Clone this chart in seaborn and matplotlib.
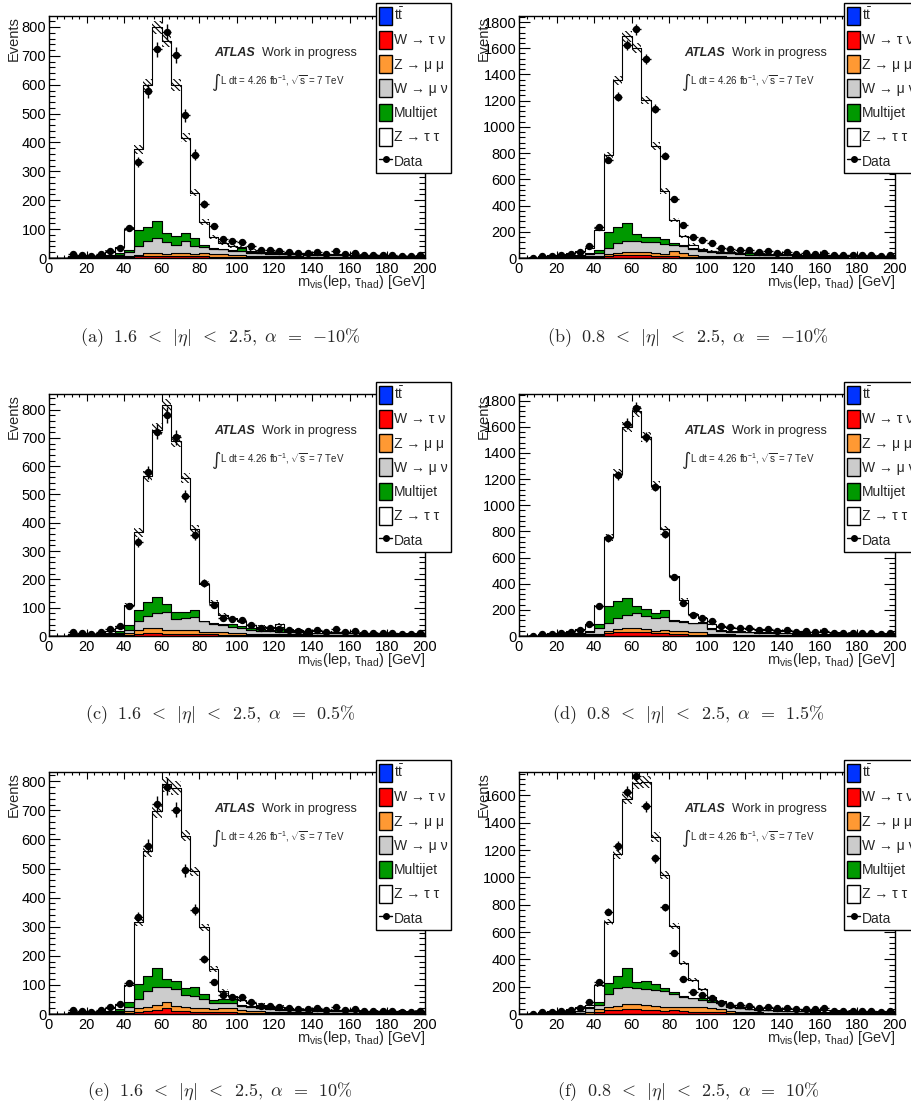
import numpy as np
import pandas as pd
import matplotlib
matplotlib.use("Agg")
import matplotlib.pyplot as plt
import seaborn as sns
from matplotlib.patches import Patch
from matplotlib.lines import Line2D
from matplotlib.ticker import MultipleLocator

# 40 bins of 5 GeV from 0 to 200
edges = list(range(0, 205, 5))
centers = np.array(edges[:-1]) + 2.5

nan = np.nan
# data is the same for all alpha values within one eta region
data_eta16 = [nan, nan, 13, 10, 8, 15, 25, 35, 105, 333, 578, 722, 782, 703, 494, 358, 188, 110, 65, 60,
              57, 40, 28, 28, 25, 20, 18, 18, 20, 15, 25, 14, 16, 12, 10, 10, 10, 8, 8, 12]
data_eta08 = [nan, 0, 15, 18, 20, 30, 45, 88, 233, 750, 1230, 1625, 1745, 1520, 1140, 780, 450, 255, 160, 137,
              114, 79, 69, 64, 58, 46, 53, 41, 46, 33, 38, 33, 41, 25, 25, 22, 22, 22, 15, 20]

ttbar_eta16 = [0, 0, 0, 0, 0, 0, 0, 0, 0.3, 0.5, 0.5, 0.5, 0.5, 0.5, 0.5, 0.5, 0.5, 0.5, 0.5, 0.5,
               0.5, 0.5, 0.5, 0.3, 0.3, 0.3, 0.3, 0.3, 0.3, 0.3, 0.3, 0.3, 0.2, 0.2, 0.2, 0.2, 0.2, 0.2, 0.2, 0.2]
ttbar_eta08 = [0, 0, 0, 0, 0, 0, 0, 0, 0.5, 1, 1, 1, 1, 1, 1, 1, 1, 1, 1, 1,
               1, 1, 1, 0.5, 0.5, 0.5, 0.5, 0.5, 0.5, 0.5, 0.5, 0.5, 0.5, 0.5, 0.5, 0.5, 0.5, 0.5, 0.5, 0.5]

# (a) 1.6<|eta|<2.5, alpha=-10%
wtn_a = [0, 0, 1, 1, 1, 1, 1, 2, 3, 5, 6, 7, 7, 6, 6, 5, 5, 4, 3, 3, 3, 2, 2, 2, 2, 2, 2, 1, 1, 1, 1, 1, 1, 1, 1, 1, 1, 1, 1, 1]
zmm_a = [0, 0, 1, 2, 2, 3, 3, 4, 5, 5, 10, 11, 8, 10, 10, 9, 11, 8, 9, 7, 6, 5, 5, 4, 4, 4, 4, 3, 3, 3, 3, 3, 3, 2, 2, 2, 2, 2, 2, 2]
wmn_a = [0, 0, 2, 2, 2, 3, 4, 6, 12, 32, 41, 51, 40, 30, 44, 28, 21, 20, 18, 15, 14, 10, 9, 8, 8, 7, 7, 6, 6, 5, 5, 5, 4, 4, 4, 4, 3, 3, 3, 3]
mj_a = [0, 0, 2, 1, 2, 2, 3, 5, 9, 54, 51, 60, 30, 31, 27, 28, 9, 3, 2, 2, 10, 3, 2, 2, 2, 1, 1, 1, 1, 1, 1, 1, 1, 1, 1, 1, 1, 1, 1, 1]
ztt_a = [0, 0, 2, 1, 1, 3, 11, 21, 71, 280, 492, 669, 667, 521, 329, 155, 79, 37, 20, 13,
         3, 5, 4, 4, 2, 3, 1, 3, 2, 2, 2, 1, 1, 2, 1, 1, 1, 1, 1, 0]
err_a = [0, 0, 2, 2, 2, 3, 4, 5, 8, 15, 20, 23, 22, 20, 16, 12, 10, 8, 7, 6, 5, 4, 4, 3, 3, 3, 3, 3, 3, 3, 3, 3, 3, 3, 3, 3, 3, 3, 3, 3]

# (b) 0.8<|eta|<2.5, alpha=-10%
wtn_b = [0, 0, 1, 2, 2, 3, 3, 4, 5, 15, 20, 25, 22, 20, 18, 15, 14, 10, 8, 6, 5, 4, 4, 3, 3, 3, 3, 2, 2, 2, 2, 2, 2, 2, 2, 1, 1, 1, 1, 1]
zmm_b = [0, 1, 3, 4, 4, 5, 6, 8, 8, 12, 18, 20, 25, 22, 20, 18, 40, 30, 15, 10, 8, 7, 6, 6, 5, 5, 4, 4, 4, 3, 3, 3, 3, 3, 3, 2, 2, 2, 2, 2]
wmn_b = [0, 1, 4, 5, 6, 8, 10, 18, 23, 47, 74, 87, 78, 78, 82, 74, 46, 50, 45, 40, 35, 28, 24, 20, 18, 16, 15, 14, 13, 12, 11, 10, 9, 9, 8, 8, 7, 7, 7, 6]
mj_b = [0, 0, 2, 3, 3, 4, 6, 8, 28, 122, 122, 133, 58, 43, 43, 38, 12, 6, 6, 6, 6, 6, 5, 5, 8, 4, 4, 3, 3, 3, 3, 3, 2, 2, 2, 2, 2, 2, 2, 2]
ztt_b = [0, 1, 5, 6, 10, 15, 25, 37, 152, 585, 1121, 1425, 1419, 1040, 691, 363, 175, 69, 26, 2,
         1, 3, 5, 6, 4, 7, 7, 7, 7, 7, 7, 6, 7, 6, 6, 6, 6, 5, 5, 5]
err_b = [0, 1, 3, 3, 4, 4, 5, 6, 10, 25, 35, 40, 40, 33, 28, 22, 17, 13, 10, 8, 7, 6, 5, 5, 5, 4, 4, 4, 4, 4, 4, 4, 4, 4, 4, 4, 4, 4, 4, 4]

# (c) 1.6<|eta|<2.5, alpha=0.5%
wtn_c = [0, 0, 1, 1, 1, 1, 1, 2, 4, 8, 10, 10, 8, 8, 7, 7, 6, 5, 4, 4, 3, 3, 2, 2, 2, 2, 2, 2, 1, 1, 1, 1, 1, 1, 1, 1, 1, 1, 1, 1]
zmm_c = [0, 0, 1, 2, 2, 3, 3, 4, 6, 11, 17, 16, 13, 13, 12, 12, 9, 8, 8, 7, 6, 5, 5, 4, 4, 4, 4, 3, 3, 3, 3, 3, 3, 2, 2, 2, 2, 2, 2, 2]
wmn_c = [0, 0, 2, 2, 2, 3, 4, 6, 11, 35, 44, 54, 65, 38, 44, 46, 36, 30, 25, 22, 19, 14, 11, 10, 9, 8, 7, 7, 6, 6, 5, 5, 5, 4, 4, 4, 4, 3, 3, 3]
mj_c = [0, 0, 2, 1, 2, 2, 3, 5, 18, 38, 47, 57, 27, 27, 21, 27, 3, 2, 4, 8, 8, 6, 5, 5, 18, 3, 2, 2, 2, 2, 2, 2, 1, 1, 1, 1, 1, 1, 1, 1]
ztt_c = [0, 0, 2, 1, 1, 3, 7, 13, 71, 274, 446, 592, 701, 602, 474, 287, 130, 73, 31, 22,
         15, 11, 10, 10, 8, 7, 5, 4, 4, 3, 3, 2, 2, 3, 3, 2, 2, 2, 2, 2]
err_c = [0, 0, 2, 2, 2, 3, 4, 5, 8, 16, 20, 22, 23, 20, 18, 14, 9, 8, 7, 6, 6, 5, 4, 4, 5, 3, 3, 3, 3, 3, 3, 3, 3, 3, 3, 3, 3, 3, 3, 3]

# (d) 0.8<|eta|<2.5, alpha=1.5%
wtn_d = [0, 0, 1, 2, 2, 3, 3, 4, 6, 20, 26, 33, 28, 28, 22, 20, 18, 14, 10, 8, 6, 5, 4, 4, 3, 3, 3, 3, 2, 2, 2, 2, 2, 2, 2, 2, 1, 1, 1, 1]
zmm_d = [0, 1, 3, 4, 4, 5, 6, 8, 12, 21, 25, 26, 31, 23, 19, 26, 23, 27, 23, 25, 12, 8, 7, 6, 6, 5, 5, 4, 4, 4, 3, 3, 3, 3, 3, 2, 2, 2, 2, 2]
wmn_d = [0, 1, 4, 5, 6, 8, 10, 18, 41, 56, 84, 102, 115, 102, 94, 97, 76, 64, 64, 64, 31, 24, 22, 20, 18, 16, 15, 14, 13, 12, 11, 10, 9, 9, 8, 8, 7, 7, 7, 6]
mj_d = [0, 0, 2, 3, 3, 4, 6, 8, 30, 128, 128, 127, 56, 51, 39, 56, 6, 12, 5, 8, 8, 6, 5, 5, 4, 4, 4, 3, 3, 3, 3, 3, 2, 2, 2, 2, 2, 2, 2, 2]
ztt_d = [0, 1, 5, 6, 10, 15, 25, 47, 141, 528, 978, 1308, 1488, 1318, 975, 621, 337, 159, 64, 30,
         32, 28, 26, 24, 25, 23, 18, 18, 17, 15, 14, 13, 13, 11, 11, 10, 10, 9, 8, 8]
err_d = [0, 1, 3, 3, 4, 4, 5, 6, 10, 25, 35, 40, 42, 38, 32, 22, 17, 13, 10, 9, 7, 6, 5, 5, 5, 4, 4, 4, 4, 4, 4, 4, 4, 4, 4, 4, 4, 4, 4, 4]

# (e) 1.6<|eta|<2.5, alpha=10%
wtn_e = [0, 0, 1, 1, 1, 1, 1, 2, 4, 8, 11, 14, 20, 11, 9, 8, 7, 6, 5, 5, 4, 3, 3, 2, 2, 2, 2, 2, 1, 1, 1, 1, 1, 1, 1, 1, 1, 1, 1, 1]
zmm_e = [0, 0, 1, 2, 2, 3, 3, 4, 7, 12, 14, 17, 20, 17, 14, 12, 13, 10, 15, 15, 10, 7, 6, 5, 5, 4, 4, 3, 3, 3, 3, 3, 3, 2, 2, 2, 2, 2, 2, 2]
wmn_e = [0, 0, 2, 2, 2, 3, 4, 6, 14, 31, 52, 63, 54, 57, 41, 42, 31, 23, 17, 17, 14, 12, 10, 9, 8, 8, 7, 7, 6, 6, 5, 5, 5, 4, 4, 4, 4, 3, 3, 3]
mj_e = [0, 0, 2, 1, 2, 2, 3, 5, 17, 51, 52, 63, 25, 29, 24, 29, 18, 9, 15, 14, 3, 4, 5, 3, 2, 2, 2, 2, 2, 2, 2, 2, 1, 1, 1, 1, 1, 1, 1, 1]
ztt_e = [0, 0, 2, 1, 1, 3, 9, 14, 58, 213, 430, 540, 670, 663, 525, 399, 228, 106, 25, 9,
         17, 13, 7, 6, 8, 4, 3, 3, 4, 3, 3, 2, 2, 3, 3, 2, 2, 2, 2, 2]
err_e = [0, 0, 2, 2, 2, 3, 4, 5, 8, 14, 20, 24, 25, 23, 20, 16, 12, 9, 8, 8, 7, 6, 5, 5, 4, 3, 3, 3, 3, 3, 3, 3, 3, 3, 3, 3, 3, 3, 3, 3]

# (f) 0.8<|eta|<2.5, alpha=10%
wtn_f = [0, 0, 1, 2, 2, 3, 3, 3, 11, 28, 28, 33, 36, 28, 26, 21, 28, 21, 16, 16, 16, 13, 8, 6, 5, 4, 4, 3, 3, 3, 3, 2, 2, 2, 2, 2, 2, 2, 1, 1]
zmm_f = [0, 1, 3, 4, 4, 5, 6, 8, 22, 25, 32, 37, 36, 37, 34, 32, 20, 27, 37, 32, 24, 23, 15, 10, 8, 7, 6, 5, 5, 4, 4, 4, 3, 3, 3, 3, 3, 2, 2, 2]
wmn_f = [0, 1, 4, 5, 6, 8, 10, 30, 32, 90, 132, 129, 115, 117, 115, 114, 95, 78, 61, 53, 49, 41, 30, 24, 20, 18, 16, 15, 14, 13, 12, 11, 10, 9, 9, 8, 8, 7, 7, 6]
mj_f = [0, 0, 2, 3, 3, 4, 6, 8, 24, 80, 87, 134, 49, 58, 41, 25, 15, 2, 2, 13, 12, 12, 8, 5, 4, 4, 4, 3, 3, 3, 3, 3, 2, 2, 2, 2, 2, 2, 2, 2]
ztt_f = [0, 1, 5, 6, 10, 15, 25, 14, 120, 448, 890, 1241, 1453, 1457, 1078, 826, 488, 244, 132, 66,
         20, 3, 2, 8, 12, 12, 11, 13, 12, 11, 10, 10, 11, 10, 9, 8, 6, 7, 7, 7]
err_f = [0, 1, 3, 3, 4, 4, 5, 6, 10, 24, 33, 40, 42, 42, 35, 30, 22, 18, 15, 12, 9, 7, 6, 5, 5, 4, 4, 4, 4, 4, 4, 4, 4, 4, 4, 4, 4, 4, 4, 4]

rel = r"\ \,<\ \,"
eq = r"\ \,=\ \,"
captions = [
    r"$\mathrm{(a)}\ \ 1.6" + rel + r"|\eta|" + rel + r"2.5,\ \alpha" + eq + r"{-}10\%$",
    r"$\mathrm{(b)}\ \ 0.8" + rel + r"|\eta|" + rel + r"2.5,\ \alpha" + eq + r"{-}10\%$",
    r"$\mathrm{(c)}\ \ 1.6" + rel + r"|\eta|" + rel + r"2.5,\ \alpha" + eq + r"0.5\%$",
    r"$\mathrm{(d)}\ \ 0.8" + rel + r"|\eta|" + rel + r"2.5,\ \alpha" + eq + r"1.5\%$",
    r"$\mathrm{(e)}\ \ 1.6" + rel + r"|\eta|" + rel + r"2.5,\ \alpha" + eq + r"10\%$",
    r"$\mathrm{(f)}\ \ 0.8" + rel + r"|\eta|" + rel + r"2.5,\ \alpha" + eq + r"10\%$",
]

# stacking order: first in list ends up on top
procs = ["ztt", "mj", "wmn", "zmm", "wtn", "tt"]
palette = {"tt": "#0033ff", "wtn": "#ff0000", "zmm": "#ff9933", "wmn": "#cccccc",
           "mj": "#009900", "ztt": "#ffffff"}
leg_labels = [r"t$\bar{\mathrm{t}}$", "W → τ ν", "Z → μ μ", "W → μ ν", "Multijet", "Z → τ τ", "Data"]
leg_keys = ["tt", "wtn", "zmm", "wmn", "mj", "ztt"]

panels = [
    dict(ztt=ztt_a, mj=mj_a, wmn=wmn_a, zmm=zmm_a, wtn=wtn_a, tt=ttbar_eta16, err=err_a, data=data_eta16, ymax=838, ystep=100),
    dict(ztt=ztt_b, mj=mj_b, wmn=wmn_b, zmm=zmm_b, wtn=wtn_b, tt=ttbar_eta08, err=err_b, data=data_eta08, ymax=1846, ystep=200),
    dict(ztt=ztt_c, mj=mj_c, wmn=wmn_c, zmm=zmm_c, wtn=wtn_c, tt=ttbar_eta16, err=err_c, data=data_eta16, ymax=855, ystep=100),
    dict(ztt=ztt_d, mj=mj_d, wmn=wmn_d, zmm=zmm_d, wtn=wtn_d, tt=ttbar_eta08, err=err_d, data=data_eta08, ymax=1851, ystep=200),
    dict(ztt=ztt_e, mj=mj_e, wmn=wmn_e, zmm=zmm_e, wtn=wtn_e, tt=ttbar_eta16, err=err_e, data=data_eta16, ymax=832, ystep=100),
    dict(ztt=ztt_f, mj=mj_f, wmn=wmn_f, zmm=zmm_f, wtn=wtn_f, tt=ttbar_eta08, err=err_f, data=data_eta08, ymax=1771, ystep=200),
]

sns.set_style("ticks")
plt.rcParams["font.family"] = ["Liberation Sans", "DejaVu Sans"]
plt.rcParams["mathtext.fontset"] = "custom"
plt.rcParams["mathtext.rm"] = "Liberation Sans"
plt.rcParams["mathtext.it"] = "Liberation Sans:italic"
plt.rcParams["mathtext.bf"] = "Liberation Sans:bold"
plt.rcParams["hatch.linewidth"] = 0.8
plt.rcParams["hatch.color"] = "black"

W, H = 912, 1109
fig = plt.figure(figsize=(W / 100, H / 100), dpi=100)

col_x = [49, 519]
row_top = [16, 394, 772]
ax_w, ax_h = 376, 242
leg_left = [376, 844]
leg_top = [3, 382, 760]
cap_x = [220, 688]
cap_y = [338, 715, 1092]

for i, p in enumerate(panels):
    r, c = divmod(i, 2)
    ax = fig.add_axes([col_x[c] / W, 1 - (row_top[r] + ax_h) / H, ax_w / W, ax_h / H])

    df = pd.DataFrame({
        "m": np.tile(centers, len(procs)),
        "n": np.concatenate([np.asarray(p[k], dtype=float) for k in procs]),
        "proc": np.repeat(procs, len(centers)),
    })
    sns.histplot(data=df, x="m", weights="n", hue="proc", hue_order=procs, palette=palette,
                 bins=edges, multiple="stack", element="step", fill=True, alpha=1,
                 edgecolor="black", linewidth=0.8, legend=False, ax=ax)

    total = np.sum([np.asarray(p[k], dtype=float) for k in procs], axis=0)
    err = np.asarray(p["err"], dtype=float)
    ax.bar(centers, 2 * err, bottom=total - err, width=5, fill=False, hatch="\\\\\\\\\\\\",
           linewidth=0, edgecolor="black", zorder=4)

    data = np.asarray(p["data"], dtype=float)
    ax.errorbar(centers, data, yerr=np.sqrt(data), xerr=2.5, fmt="o", color="black",
                ms=4.3, elinewidth=1, capsize=0, zorder=5)

    ax.set_xlim(0, 200)
    ax.set_ylim(0, p["ymax"])
    ax.set_xlabel("")
    ax.set_ylabel("")
    ax.xaxis.set_major_locator(MultipleLocator(20))
    ax.xaxis.set_minor_locator(MultipleLocator(4))
    ax.yaxis.set_major_locator(MultipleLocator(p["ystep"]))
    ax.yaxis.set_minor_locator(MultipleLocator(p["ystep"] / 5))
    ax.tick_params(which="both", direction="in", top=True, right=True, labelsize=10.5,
                   colors="black", width=0.8)
    ax.tick_params(axis="x", which="major", length=5, pad=3)
    ax.tick_params(axis="x", which="minor", length=2.5)
    ax.tick_params(axis="y", which="major", length=8, pad=2)
    ax.tick_params(axis="y", which="minor", length=4)
    for s in ax.spines.values():
        s.set_linewidth(1)
        s.set_color("black")

    ax.text(-0.093, 1.0, "Events", rotation=90, ha="center", va="top",
            transform=ax.transAxes, fontsize=10.5)
    ax.text(1.0, -0.10, r"m$_{\mathrm{vis}}$(lep, $\mathrm{\tau}_{\mathrm{had}}$) [GeV]",
            ha="right", va="center", transform=ax.transAxes, fontsize=10.5)
    ax.text(0.439, 0.847, "ATLAS", fontweight="bold", fontstyle="italic",
            ha="left", va="center", transform=ax.transAxes, fontsize=9)
    ax.text(0.566, 0.847, "Work in progress", ha="left", va="center",
            transform=ax.transAxes, fontsize=9)
    ax.text(0.432, 0.727, "∫", ha="left", va="center", transform=ax.transAxes,
            fontsize=13, family="DejaVu Sans")
    ax.text(0.456, 0.733, r"L dt = 4.26 fb$^{\mathrm{-1}}$, $\sqrt{\mathrm{s}}$ = 7 TeV",
            ha="left", va="center", transform=ax.transAxes, fontsize=7)

    handles = [Patch(facecolor=palette[k], edgecolor="black", linewidth=1) for k in leg_keys]
    handles.append(Line2D([], [], color="black", marker="o", ms=4, lw=1))
    leg = ax.legend(handles, leg_labels, loc="upper left",
                    bbox_to_anchor=(leg_left[c] / W, 1 - leg_top[r] / H),
                    bbox_transform=fig.transFigure, frameon=True, fancybox=False,
                    framealpha=1, edgecolor="black", fontsize=10, handlelength=0.9,
                    handleheight=1.6, handletextpad=0.15, labelspacing=0.46,
                    borderpad=0.25, borderaxespad=0)
    leg.get_frame().set_linewidth(1)
    leg.set_zorder(10)

    fig.text(cap_x[c] / W, 1 - cap_y[r] / H, captions[i], ha="center", va="center",
             fontsize=13, math_fontfamily="cm")

fig.savefig("out.png", dpi=100)
